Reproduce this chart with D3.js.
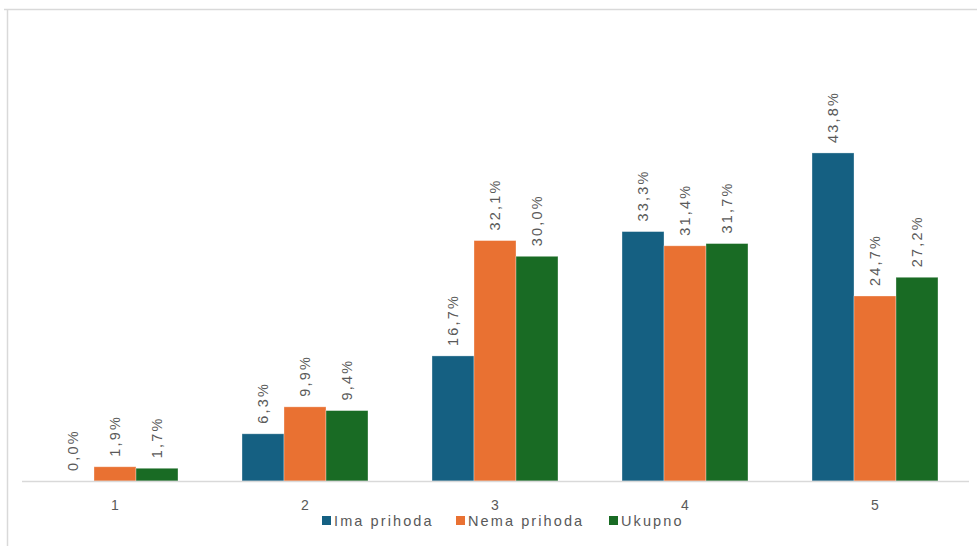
<!DOCTYPE html>
<html><head><meta charset="utf-8">
<script src="https://cdn.jsdelivr.net/npm/d3@7"></script>
<style>body{margin:0;background:#fff}svg{display:block}text{font-family:"Liberation Sans",Arial,sans-serif}</style>
</head><body><svg id="c" width="977" height="546"></svg>
<script>
const categories = ["1","2","3","4","5"];
const seriesNames = ["Ima prihoda","Nema prihoda","Ukupno"];
const imaPrihoda = [0.0, 6.3, 16.7, 33.3, 43.8];
const nemaPrihoda = [1.9, 9.9, 32.1, 31.4, 24.7];
const ukupno = [1.7, 9.4, 30.0, 31.7, 27.2];
const colors = ["#156082","#E97132","#196B24"];
const series = [imaPrihoda, nemaPrihoda, ukupno];

const svg = d3.select("#c");
svg.append("rect").attr("x",0).attr("y",0).attr("width",977).attr("height",546).attr("fill","#fff");
// frame
svg.append("line").attr("x1",4).attr("x2",977).attr("y1",9.5).attr("y2",9.5).attr("stroke","#d9d9d9").attr("stroke-width",1.5);
svg.append("line").attr("x1",7.5).attr("x2",7.5).attr("y1",9).attr("y2",546).attr("stroke","#d9d9d9").attr("stroke-width",1.5);

const x0 = d3.scaleBand().domain(categories).range([20,970]).paddingInner(0.337).paddingOuter(0.1685);
const x1 = d3.scaleBand().domain(seriesNames).range([0,x0.bandwidth()]);
const y = d3.scaleLinear().domain([0,50]).range([481,481-374.5]);

const g = svg.append("g");
series.forEach((vals,si)=>{
  g.selectAll(null).data(vals).enter().append("rect")
    .attr("x",(d,i)=>x0(categories[i])+x1(seriesNames[si]))
    .attr("y",d=>y(d))
    .attr("width",x1.bandwidth())
    .attr("height",d=>y(0)-y(d))
    .attr("fill",colors[si])
    .attr("stroke","#ffffff").attr("stroke-opacity",0.4).attr("stroke-width",d=>d>0?0.8:0);
  g.selectAll(null).data(vals).enter().append("text")
    .attr("transform",(d,i)=>{
      const cx = x0(categories[i])+x1(seriesNames[si])+x1.bandwidth()/2;
      return `translate(${cx},${y(d)-10}) rotate(-90)`;
    })
    .attr("dy","0.35em")
    .attr("text-anchor","start")
    .attr("font-size",14.5).attr("letter-spacing",2.2)
    .attr("fill","#595959")
    .text(d=>d.toFixed(1).replace(".",",")+"%");
});

// baseline axis
const ax = d3.axisBottom(x0).tickSize(0).tickPadding(0);
const axg = svg.append("g").attr("transform","translate(0,481)").call(ax);
axg.select(".domain").attr("d","M22,0.5H969").attr("stroke","#d9d9d9").attr("stroke-width",1.5);
axg.selectAll("text").attr("y",28.5).attr("dy","0").attr("font-size",14).attr("fill","#595959").attr("font-family","Liberation Sans, Arial, sans-serif");

// legend
const legX = [322, 456, 609];
const leg = svg.append("g");
seriesNames.forEach((n,i)=>{
  leg.append("rect").attr("x",legX[i]).attr("y",516).attr("width",9).attr("height",9).attr("fill",colors[i]);
  leg.append("text").attr("x",legX[i]+12).attr("y",525.5).attr("font-size",14.5).attr("letter-spacing",2.1).attr("fill","#595959").text(n);
});
</script></body></html>
